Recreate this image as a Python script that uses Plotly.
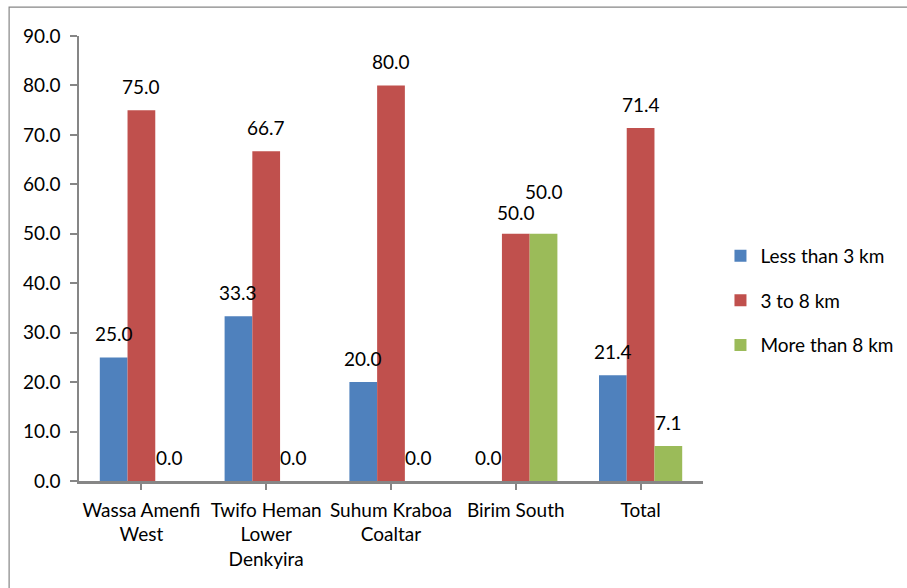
import plotly.graph_objects as go

# Distance to facility, share of respondents (%) by district
districts = ["Wassa Amenfi<br>West", "Twifo Heman<br>Lower<br>Denkyira",
             "Suhum Kraboa<br>Coaltar", "Birim South", "Total"]
less_than_3 = [25.0, 33.3, 20.0, 0.0, 21.4]
three_to_8 = [75.0, 66.7, 80.0, 50.0, 71.4]
more_than_8 = [0.0, 0.0, 0.0, 50.0, 7.1]

series_names = ["Less than 3 km", "3 to 8 km", "More than 8 km"]
series_values = [less_than_3, three_to_8, more_than_8]
colors = ["#4F81BD", "#C0504D", "#9BBB59"]

FONT = "Lato"
FS = 19
GAP = 1.5  # gap width relative to a single bar
bar_w = 1.0 / (3 + GAP)  # bar width in category units

fig = go.Figure()
for i, (name, vals, col) in enumerate(zip(series_names, series_values, colors)):
    fig.add_trace(go.Bar(
        x=list(range(len(districts))), y=vals, name=name,
        marker=dict(color=col, line=dict(width=0)),
        legendgroup=name,
    ))

# value labels above each bar
annotations = []
for i, vals in enumerate(series_values):
    for j, v in enumerate(vals):
        shift = 10
        # Birim South: the two equal bars get staggered labels
        if j == 3 and i == 2:
            shift = 29
        elif j == 3 and i == 1:
            shift = 8
        annotations.append(dict(
            x=j + (i - 1) * bar_w, y=v, xref="x", yref="y",
            text=f"{v:.1f}", showarrow=False, yanchor="bottom",
            yshift=shift, font=dict(family=FONT, size=FS, color="#000000"),
        ))

fig.update_layout(
    width=907, height=588,
    margin=dict(l=79, r=204, t=36, b=107, autoexpand=False),
    paper_bgcolor="white", plot_bgcolor="white",
    barmode="group", bargap=GAP / (3 + GAP), bargroupgap=0,
    font=dict(family=FONT, size=FS, color="#000000"),
    showlegend=True,
    legend=dict(x=1.028, y=0.405, xanchor="left", yanchor="middle",
                font=dict(family=FONT, size=FS), tracegroupgap=17,
                traceorder="grouped", itemwidth=30),
    annotations=annotations,
    shapes=[dict(type="rect", xref="paper", yref="paper",
                 x0=-0.112, x1=1.6, y0=-0.5, y1=1.065,
                 line=dict(color="#868686", width=1.2), layer="below")],
)

fig.update_xaxes(
    tickmode="array", tickvals=list(range(len(districts))), ticktext=districts,
    range=[-0.5, len(districts) - 0.5],
    showline=True, linecolor="#868686", linewidth=2.5,
    ticks="outside", tickson="boundaries", ticklen=6, tickcolor="#868686",
    tickwidth=1.5, showgrid=False, zeroline=False, ticklabelstandoff=4,
    tickfont=dict(family=FONT, size=FS),
)
fig.update_yaxes(
    range=[0, 90], dtick=10, tickformat=".1f",
    showline=True, linecolor="#868686", linewidth=1.5,
    ticks="outside", ticklen=7, tickcolor="#868686", tickwidth=1.5,
    showgrid=False, zeroline=False, ticklabelstandoff=6,
    tickfont=dict(family=FONT, size=FS),
)

fig.write_html("out.html")
